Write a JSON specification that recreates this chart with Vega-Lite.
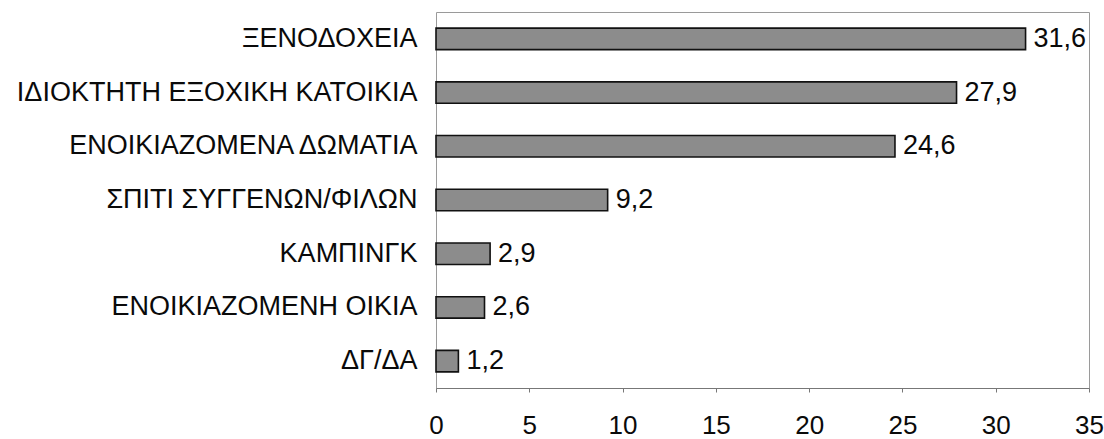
{
  "$schema": "https://vega.github.io/schema/vega-lite/v6.json",
  "autosize": {"type": "none"},
  "padding": {"left": 436, "top": 12, "right": 15, "bottom": 51},
  "width": 653,
  "height": 376,
  "background": "#ffffff",
  "config": {
    "locale": {"number": {"decimal": ",", "thousands": ".", "grouping": [3], "currency": ["", " €"]}},
    "view": {"stroke": "#9a9a9a", "strokeWidth": 1},
    "font": "Liberation Sans"
  },
  "data": {
    "values": [
      {"category": "ΞΕΝΟΔΟΧΕΙΑ", "value": 31.6},
      {"category": "ΙΔΙΟΚΤΗΤΗ ΕΞΟΧΙΚΗ ΚΑΤΟΙΚΙΑ", "value": 27.9},
      {"category": "ΕΝΟΙΚΙΑΖΟΜΕΝΑ ΔΩΜΑΤΙΑ", "value": 24.6},
      {"category": "ΣΠΙΤΙ ΣΥΓΓΕΝΩΝ/ΦΙΛΩΝ", "value": 9.2},
      {"category": "ΚΑΜΠΙΝΓΚ", "value": 2.9},
      {"category": "ΕΝΟΙΚΙΑΖΟΜΕΝΗ ΟΙΚΙΑ", "value": 2.6},
      {"category": "ΔΓ/ΔΑ", "value": 1.2}
    ]
  },
  "encoding": {
    "y": {
      "field": "category",
      "type": "nominal",
      "sort": null,
      "scale": {"paddingInner": 0.6, "paddingOuter": 0.3},
      "axis": {
        "title": null,
        "domain": false,
        "ticks": false,
        "labelFont": "Liberation Sans",
        "labelFontSize": 27,
        "labelColor": "#0a0a0a",
        "labelPadding": 19,
        "labelLimit": 0
      }
    },
    "x": {
      "field": "value",
      "type": "quantitative",
      "scale": {"domain": [0, 35], "nice": false},
      "axis": {
        "title": null,
        "values": [0, 5, 10, 15, 20, 25, 30, 35],
        "grid": false,
        "domain": true,
        "domainColor": "#777777",
        "ticks": true,
        "tickSize": 4,
        "tickColor": "#777777",
        "labelFont": "Liberation Sans",
        "labelFontSize": 26,
        "labelColor": "#0a0a0a",
        "labelPadding": 20,
        "labelFlush": false,
        "format": "d"
      }
    }
  },
  "layer": [
    {
      "mark": {"type": "bar", "fill": "#8c8c8c", "stroke": "#111111", "strokeWidth": 1.6}
    },
    {
      "mark": {"type": "text", "align": "left", "baseline": "middle", "dx": 8, "fontSize": 27, "font": "Liberation Sans", "color": "#0a0a0a"},
      "encoding": {
        "text": {"field": "value", "type": "quantitative", "format": ".1f"}
      }
    }
  ]
}
